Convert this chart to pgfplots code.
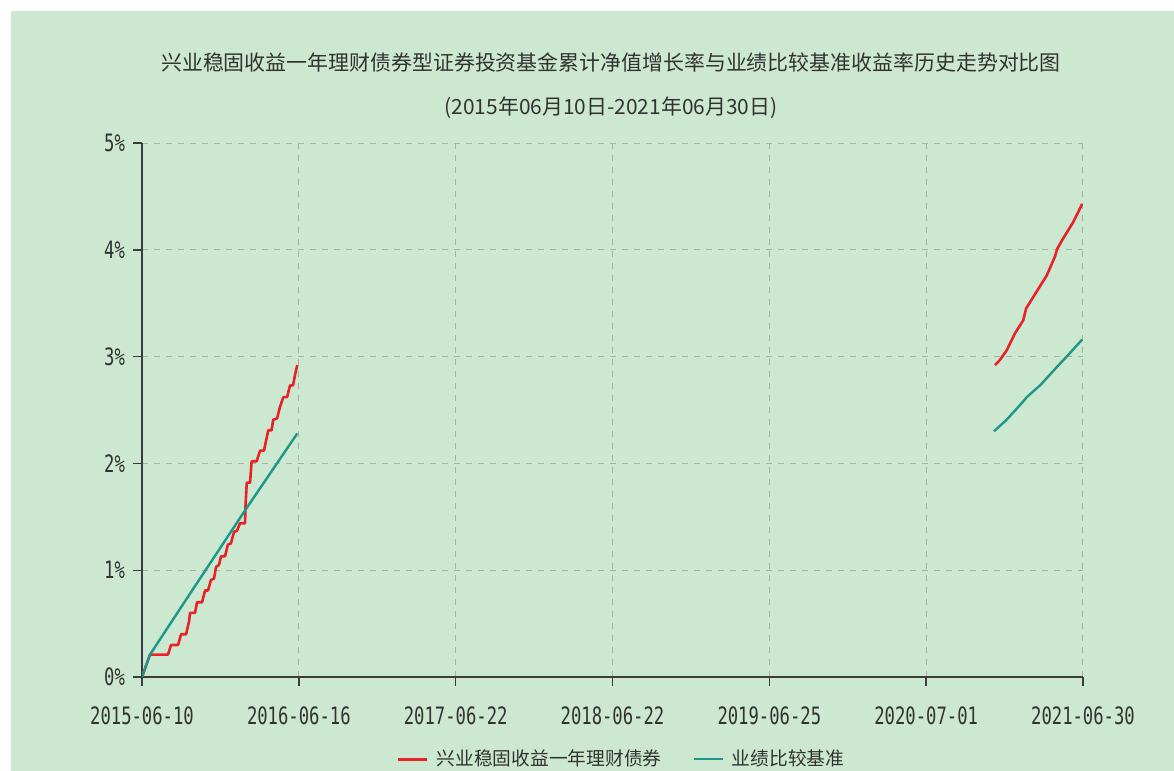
\documentclass[border=0pt]{standalone}
\usepackage{fontspec}
\usepackage{pgfplots}
\pgfplotsset{compat=1.18}
\newfontfamily\cjk{Noto Sans CJK SC}
\newfontfamily\tickfont{DejaVu Sans Mono}[FakeStretch=0.72]
\definecolor{bggreen}{RGB}{205,232,208}
\definecolor{fundred}{RGB}{232,34,40}
\definecolor{benchteal}{RGB}{28,152,138}
\definecolor{axisgray}{RGB}{60,60,60}
\definecolor{gridgray}{RGB}{165,178,165}
\definecolor{textgray}{RGB}{50,50,50}
\begin{document}
\begin{tikzpicture}
\useasboundingbox (0,0) rectangle (587bp,385.5bp);
\clip (0,0) rectangle (587bp,385.5bp);
\fill[white] (0,0) rectangle (587bp,385.5bp);
\fill[bggreen] (5.5bp,0) rectangle (587bp,380bp);
\node[font=\cjk\fontsize{10.5}{13}\selectfont, text=textgray] at (305.5bp,354.5bp)
  {兴业稳固收益一年理财债券型证券投资基金累计净值增长率与业绩比较基准收益率历史走势对比图};
\node[font=\cjk\fontsize{10.5}{13}\selectfont, text=textgray] at (305.5bp,331.5bp)
  {(2015年06月10日-2021年06月30日)};
\begin{axis}[
  at={(71bp,47bp)}, anchor=south west,
  scale only axis, width=470.5bp, height=267bp,
  xmin=0, xmax=6, ymin=0, ymax=5,
  axis x line=bottom, axis y line=left,
  axis line style={-, draw=axisgray, line width=0.7bp},
  xtick={0,...,6},
  xticklabels={2015-06-10,2016-06-16,2017-06-22,2018-06-22,2019-06-25,2020-07-01,2021-06-30},
  ytick={0,...,5},
  yticklabels={0\%,1\%,2\%,3\%,4\%,5\%},
  tick align=outside, major tick length=4.5bp,
  tick style={draw=axisgray, line width=0.7bp},
  grid=major,
  major grid style={draw=gridgray, line width=0.5bp, dash pattern=on 3bp off 3bp},
  ticklabel style={font=\tickfont\fontsize{12}{14}\selectfont, text=textgray},
  xticklabel style={yshift=-7bp},
  yticklabel style={xshift=-0.5bp},
  unbounded coords=jump,
  legend columns=2,
  legend style={at={(0.513,-0.154)}, anchor=center, draw=none, fill=none,
    font=\cjk\fontsize{9.4}{11}\selectfont, text=textgray,
    /tikz/every even column/.append style={column sep=11.5bp},
    nodes={inner xsep=4bp}},
  legend image code/.code={\draw[#1] (0bp,0bp) -- (14.5bp,0bp);},
]
\addplot[fundred, line width=1.3bp, line join=round] coordinates {
  (0,0) (0.051,0.21) (0.166,0.21) (0.185,0.30) (0.230,0.30) (0.249,0.40)
  (0.281,0.40) (0.300,0.52) (0.306,0.60) (0.338,0.60) (0.351,0.70)
  (0.383,0.70) (0.402,0.81) (0.421,0.81) (0.440,0.91) (0.459,0.92)
  (0.472,1.03) (0.491,1.05) (0.504,1.13) (0.529,1.13) (0.548,1.24)
  (0.567,1.25) (0.587,1.36) (0.606,1.37) (0.625,1.44) (0.657,1.44)
  (0.660,1.60) (0.668,1.82) (0.689,1.82) (0.699,2.02) (0.731,2.02)
  (0.753,2.12) (0.778,2.12) (0.795,2.24) (0.805,2.31) (0.826,2.31)
  (0.837,2.41) (0.861,2.42) (0.880,2.53) (0.901,2.62) (0.925,2.62)
  (0.944,2.73) (0.963,2.73) (0.976,2.83) (0.990,2.92)
  (3,nan)
  (5.439,2.92) (5.471,2.97) (5.514,3.06) (5.567,3.22) (5.619,3.34)
  (5.637,3.45) (5.705,3.61) (5.769,3.76) (5.822,3.94) (5.836,4.01)
  (5.875,4.11) (5.938,4.26) (5.995,4.43)
};
\addlegendentry{兴业稳固收益一年理财债券}
\addplot[benchteal, line width=1.2bp] coordinates {
  (0,0) (0.051,0.21) (0.306,0.78) (0.657,1.56) (0.990,2.28)
  (3,nan)
  (5.432,2.30) (5.514,2.41) (5.619,2.58) (5.641,2.62) (5.726,2.73)
  (5.832,2.90) (5.896,3.00) (5.995,3.16)
};
\addlegendentry{业绩比较基准}
\end{axis}
\end{tikzpicture}
\end{document}
